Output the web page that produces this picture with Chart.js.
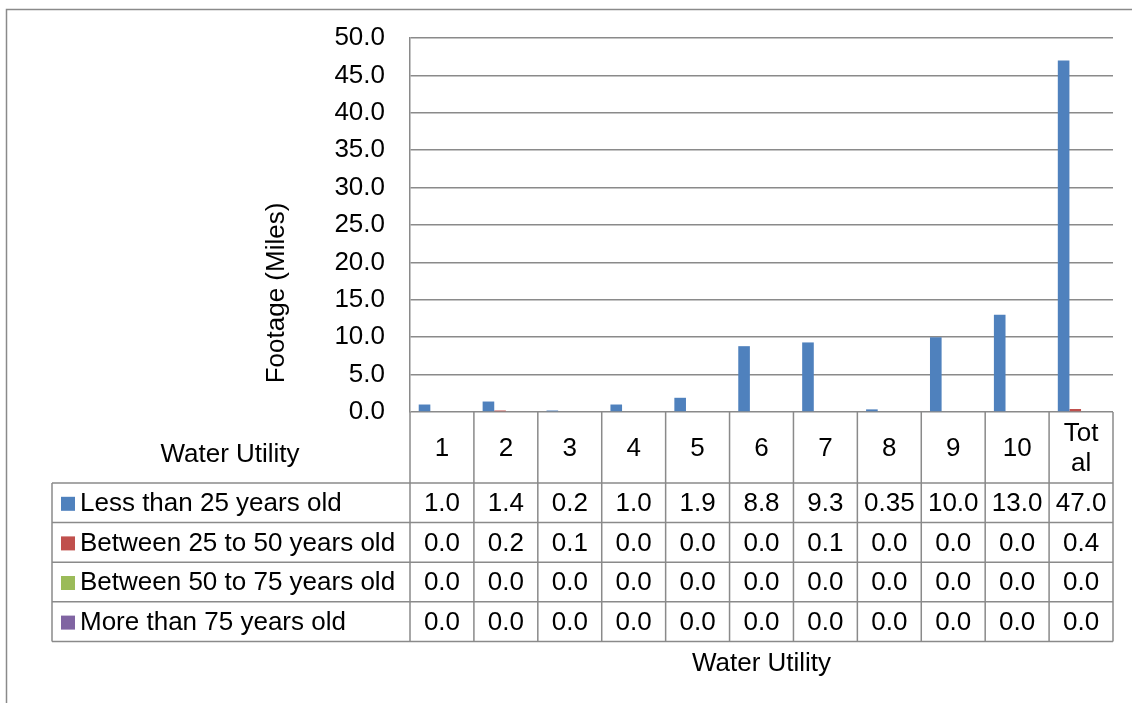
<!DOCTYPE html>
<html>
<head>
<meta charset="utf-8">
<script src="https://cdn.jsdelivr.net/npm/chart.js@4/dist/chart.umd.min.js"></script>
<style>
  body { margin: 0; background: #fff; }
  #wrap { width: 1132px; height: 703px; position: relative; }
</style>
</head>
<body>
<div id="wrap"><canvas id="footageChart"></canvas></div>
<script>
const categories = ['1', '2', '3', '4', '5', '6', '7', '8', '9', '10', ['Tot', 'al']];
const seriesNames = ['Less than 25 years old', 'Between 25 to 50 years old', 'Between 50 to 75 years old', 'More than 75 years old'];
const lessThan25 = [1.0, 1.4, 0.2, 1.0, 1.9, 8.8, 9.3, 0.35, 10.0, 13.0, 47.0];
const between25to50 = [0.0, 0.2, 0.1, 0.0, 0.0, 0.0, 0.1, 0.0, 0.0, 0.0, 0.4];
const between50to75 = [0.0, 0.0, 0.0, 0.0, 0.0, 0.0, 0.0, 0.0, 0.0, 0.0, 0.0];
const moreThan75 = [0.0, 0.0, 0.0, 0.0, 0.0, 0.0, 0.0, 0.0, 0.0, 0.0, 0.0];
const seriesColors = ['#4F81BD', '#C0504D', '#9BBB59', '#8064A2'];
const yMax = 50;
const yStep = 5;

const FONT = '"Liberation Sans", Arial, sans-serif';
const FSIZE = 26;
const LINE = '#8a8a8a';

function fmt(v) {
  // table shows one decimal unless more precision was entered (0.35)
  return Number.isInteger(Math.round(v * 100) / 10) ? v.toFixed(1) : String(v);
}

const allSeries = [lessThan25, between25to50, between50to75, moreThan75];

// draws the Excel-like data table below the plot, plus axis titles + outer frame
const dataTablePlugin = {
  id: 'dataTable',
  afterDraw(chart) {
    const ctx = chart.ctx;
    const area = chart.chartArea;
    const xs = chart.scales.x;
    const cellW = (area.right - area.left) / categories.length;
    const top = area.bottom;
    const headBottom = top + 71;
    const rowH = 39.6;
    const tableLeft = 52;
    const tableBottom = headBottom + rowH * allSeries.length;

    ctx.save();
    // outer frame (runs off the page right and bottom)
    ctx.strokeStyle = LINE;
    ctx.lineWidth = 1.5;
    ctx.strokeRect(6.5, 9.5, 1200, 800);

    ctx.beginPath();
    // horizontal lines
    ctx.moveTo(tableLeft, headBottom); ctx.lineTo(area.right, headBottom);
    for (let r = 1; r <= allSeries.length; r++) {
      const y = headBottom + rowH * r;
      ctx.moveTo(tableLeft, y); ctx.lineTo(area.right, y);
    }
    // vertical lines
    for (let i = 0; i <= categories.length; i++) {
      const x = area.left + cellW * i;
      ctx.moveTo(x, top); ctx.lineTo(x, tableBottom);
    }
    ctx.moveTo(tableLeft, headBottom); ctx.lineTo(tableLeft, tableBottom);
    ctx.stroke();

    ctx.fillStyle = '#000';
    ctx.font = FSIZE + 'px ' + FONT;
    ctx.textAlign = 'center';
    ctx.textBaseline = 'middle';

    // header row
    categories.forEach((c, i) => {
      const cx = xs.getPixelForValue(i);
      const lines = Array.isArray(c) ? c : [c];
      const lh = 30;
      const y0 = (top + headBottom) / 2 - (lines.length - 1) * lh / 2;
      lines.forEach((t, k) => ctx.fillText(t, cx, y0 + k * lh + 1));
    });
    ctx.fillText('Water Utility', 230, (top + headBottom) / 2 + 7);

    // value rows
    allSeries.forEach((vals, r) => {
      const cy = headBottom + rowH * r + rowH / 2 + 1;
      vals.forEach((v, i) => {
        ctx.fillText(fmt(v), xs.getPixelForValue(i), cy);
      });
      // legend key + series name
      ctx.fillStyle = seriesColors[r];
      ctx.fillRect(61, cy - 7, 14, 14);
      ctx.fillStyle = '#000';
      ctx.textAlign = 'left';
      ctx.fillText(seriesNames[r], 80, cy);
      ctx.textAlign = 'center';
    });

    // axis titles
    ctx.fillText('Water Utility', (area.left + area.right) / 2, tableBottom + 22);
    ctx.translate(277, 293);
    ctx.rotate(-Math.PI / 2);
    ctx.fillText('Footage (Miles)', 0, 0);
    ctx.restore();
  }
};

const ctx = document.getElementById('footageChart').getContext('2d');
new Chart(ctx, {
  type: 'bar',
  data: {
    labels: categories,
    datasets: allSeries.map((vals, i) => ({
      label: seriesNames[i],
      data: vals,
      backgroundColor: seriesColors[i],
      borderWidth: 0,
      barPercentage: 1.0,
      categoryPercentage: 4 / 5.5
    }))
  },
  options: {
    responsive: true,
    maintainAspectRatio: false,
    animation: false,
    events: [],
    layout: { padding: { top: 38, right: 19, bottom: 291, left: 0 } },
    plugins: {
      legend: { display: false },
      tooltip: { enabled: false }
    },
    scales: {
      x: { display: false },
      y: {
        min: 0,
        max: yMax,
        afterFit(scale) {
          scale.width = 410;
          scale.paddingTop = 0;
          scale.paddingBottom = 0;
        },
        border: { display: true, color: LINE, width: 1.5 },
        grid: { color: LINE, lineWidth: 1.5, drawTicks: false },
        ticks: {
          stepSize: yStep,
          padding: 25,
          color: '#000',
          font: { family: FONT, size: FSIZE },
          callback: v => v.toFixed(1)
        }
      }
    }
  },
  plugins: [dataTablePlugin]
});
</script>
</body>
</html>
